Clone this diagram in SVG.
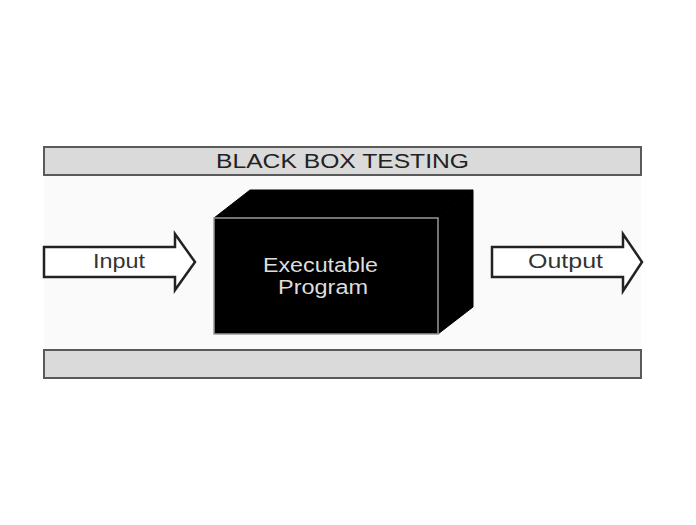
<svg xmlns="http://www.w3.org/2000/svg" width="696" height="525" viewBox="0 0 696 525">
<style>
.bar{fill:#dadada;stroke:#5a5a5a;stroke-width:2}
.arrow{fill:#fff;stroke:#222;stroke-width:2.5;stroke-linejoin:miter}
.t{font-family:"Liberation Sans",Arial,sans-serif;font-size:20px;text-anchor:middle}
</style>
<rect width="696" height="525" fill="#fff"/>
<rect x="44" y="176" width="597" height="173" fill="#fafafa"/>
<g id="title-bar">
<rect class="bar" x="44" y="147" width="597" height="28"/>
<text class="t" x="342.5" y="168" fill="#222" font-size="21" textLength="253" lengthAdjust="spacingAndGlyphs">BLACK BOX TESTING</text>
</g>
<g id="bottom-bar">
<rect class="bar" x="44" y="350" width="597" height="28"/>
</g>
<g id="program">
<polygon points="214,218 250,190 473,190 438,218" fill="#000" stroke="#000" stroke-width="1"/>
<polygon points="438,218 473,190 473,307 438,334" fill="#000" stroke="#000" stroke-width="1"/>
<rect x="214" y="218" width="224" height="116" fill="#000" stroke="#999" stroke-width="1.5"/>
<text class="t" x="320.5" y="272" fill="#ddd" textLength="115" lengthAdjust="spacingAndGlyphs">Executable</text>
<text class="t" x="323" y="294" fill="#ddd" textLength="90" lengthAdjust="spacingAndGlyphs">Program</text>
</g>
<g id="connectors">
<g id="input">
<polygon class="arrow" points="44,247 175,247 175,234 195,262 175,290 175,277 44,277"/>
<text class="t" x="119" y="268" fill="#333" textLength="52" lengthAdjust="spacingAndGlyphs">Input</text>
</g>
<g id="output">
<polygon class="arrow" points="492,247 623,247 623,234 642,262 623,291 623,277 492,277"/>
<text class="t" x="565.5" y="268" fill="#333" textLength="75" lengthAdjust="spacingAndGlyphs">Output</text>
</g>
</g>
</svg>
